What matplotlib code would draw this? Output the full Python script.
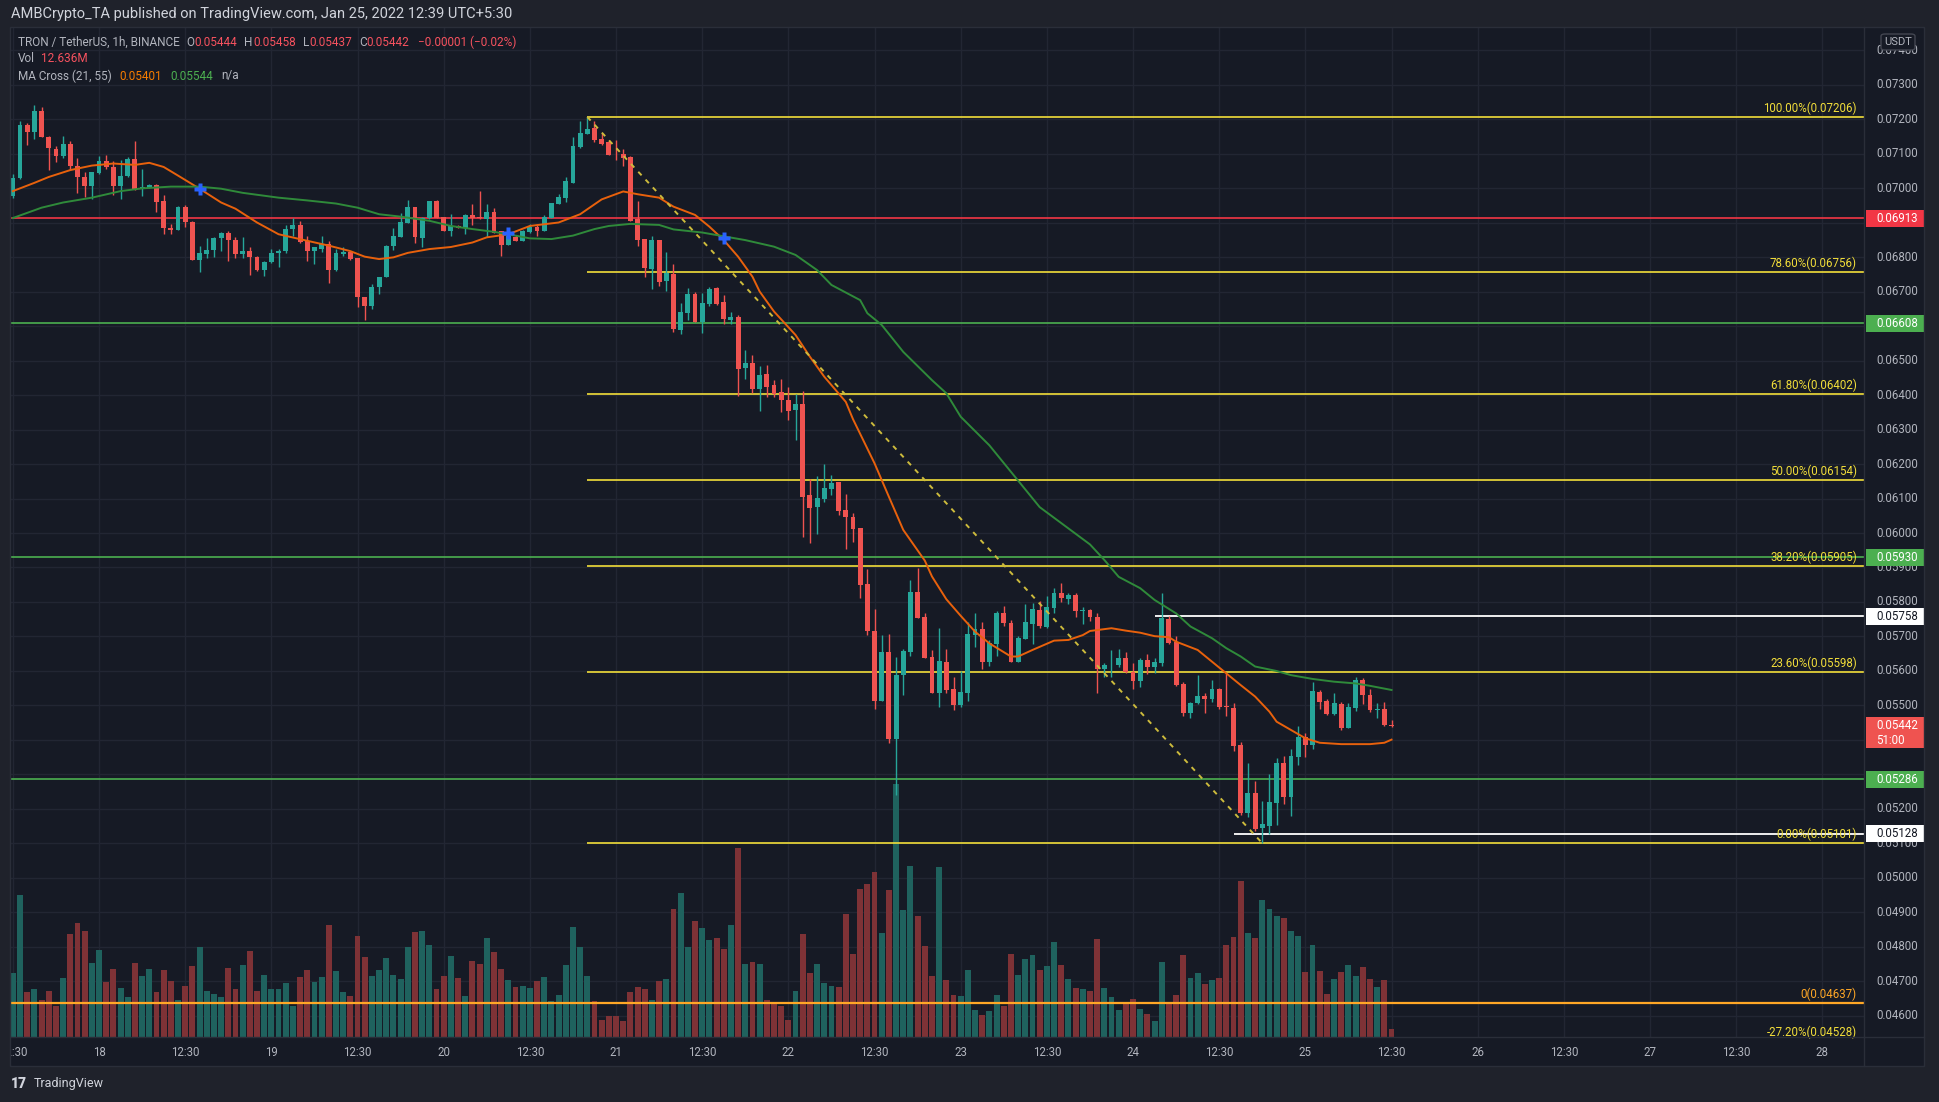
import numpy as np
import matplotlib
matplotlib.use("Agg")
import matplotlib.pyplot as plt
import matplotlib.transforms as mtransforms
from matplotlib.patches import Rectangle, FancyBboxPatch
from matplotlib.lines import Line2D

plt.rcParams['font.family'] = ['Roboto', 'DejaVu Sans']

# TRX/USDT 1h candles (Binance). index 0 = Jan 18 00:30 (UTC+5:30)
# prices are in 1e-5 USDT
first_idx = -12

opens = [6977, 7030, 7183, 7161, 7224, 7149, 7113, 7092, 7128, 7065, 7033, 7006,
         7043, 7077, 7062, 7006, 7034, 7085, 6998, 7000, 7010, 6961, 6883, 6879,
         6944, 6902, 6792, 6810, 6820, 6855, 6869, 6850, 6810, 6816, 6801, 6761,
         6786, 6812, 6817, 6881, 6892, 6846, 6817, 6824, 6838, 6761, 6810, 6815,
         6797, 6685, 6657, 6714, 6743, 6831, 6859, 6900, 6945, 6856, 6912, 6962,
         6916, 6876, 6890, 6883, 6921, 6916, 6910, 6930, 6875, 6836, 6859, 6847,
         6873, 6888, 6876, 6914, 6954, 6971, 7015, 7120, 7157, 7175, 7142, 7133,
         7100, 7098, 7090, 6909, 6852, 6765, 6849, 6730, 6752, 6588, 6639, 6693,
         6612, 6664, 6709, 6670, 6617, 6626, 6478, 6493, 6417, 6461, 6429, 6409,
         6386, 6357, 6374, 6110, 6076, 6100, 6128, 6148, 6067, 6045, 6015, 5852,
         5717, 5514, 5655, 5404, 5588, 5656, 5829, 5757, 5640, 5537, 5626, 5548,
         5502, 5537, 5705, 5721, 5627, 5677, 5768, 5739, 5627, 5694, 5736, 5777,
         5728, 5782, 5826, 5809, 5820, 5775, 5777, 5756, 5606, 5616, 5616, 5637,
         5598, 5572, 5632, 5613, 5624, 5751, 5683, 5562, 5479, 5506, 5528, 5520,
         5547, 5499, 5494, 5386, 5188, 5245, 5146, 5152, 5217, 5332, 5236, 5352,
         5410, 5386, 5539, 5513, 5474, 5504, 5436, 5494, 5574, 5531, 5487, 5489,
         5444]
highs = [7042, 7195, 7188, 7241, 7234, 7152, 7123, 7152, 7135, 7087, 7046, 7045,
         7092, 7097, 7078, 7082, 7090, 7137, 7054, 7013, 7013, 6979, 6895, 6948,
         6952, 6904, 6833, 6855, 6857, 6873, 6875, 6858, 6858, 6828, 6803, 6789,
         6823, 6823, 6892, 6912, 6904, 6861, 6830, 6861, 6846, 6823, 6828, 6818,
         6797, 6685, 6721, 6743, 6835, 6885, 6927, 6964, 6945, 6915, 6962, 6964,
         6916, 6924, 6892, 6924, 6953, 6991, 6953, 6943, 6875, 6864, 6865, 6878,
         6895, 6895, 6921, 6956, 6984, 7032, 7147, 7194, 7206, 7194, 7158, 7138,
         7138, 7113, 7093, 6962, 6852, 6861, 6849, 6814, 6780, 6666, 6710, 6698,
         6695, 6712, 6712, 6690, 6641, 6632, 6530, 6516, 6484, 6487, 6444, 6446,
         6424, 6403, 6412, 6157, 6165, 6200, 6168, 6148, 6113, 6059, 6015, 5896,
         5780, 5704, 5707, 5642, 5665, 5864, 5898, 5767, 5661, 5724, 5664, 5584,
         5600, 5743, 5769, 5743, 5690, 5774, 5788, 5748, 5701, 5794, 5798, 5803,
         5817, 5841, 5855, 5825, 5825, 5786, 5780, 5767, 5624, 5661, 5663, 5654,
         5624, 5639, 5648, 5639, 5827, 5758, 5700, 5567, 5511, 5588, 5537, 5574,
         5552, 5595, 5506, 5395, 5332, 5281, 5223, 5300, 5347, 5354, 5373, 5441,
         5419, 5567, 5545, 5518, 5535, 5511, 5508, 5582, 5579, 5547, 5508, 5509,
         5458]
lows = [6971, 7027, 7124, 7142, 7147, 7052, 7075, 7087, 7051, 6986, 6974, 6967,
        7041, 7054, 6979, 6969, 7032, 6993, 6977, 7000, 6931, 6867, 6867, 6879,
        6888, 6792, 6756, 6796, 6799, 6816, 6788, 6797, 6797, 6749, 6759, 6746,
        6782, 6772, 6812, 6862, 6842, 6787, 6781, 6814, 6724, 6759, 6804, 6791,
        6654, 6617, 6649, 6692, 6741, 6821, 6857, 6900, 6841, 6830, 6910, 6912,
        6874, 6862, 6883, 6868, 6892, 6910, 6859, 6871, 6804, 6834, 6847, 6847,
        6871, 6862, 6876, 6914, 6954, 6958, 7015, 7115, 7157, 7134, 7125, 7096,
        7081, 7065, 6905, 6833, 6743, 6708, 6717, 6702, 6584, 6577, 6617, 6612,
        6581, 6658, 6661, 6605, 6605, 6398, 6446, 6405, 6355, 6395, 6395, 6351,
        6328, 6270, 5987, 5972, 5997, 6091, 6110, 6052, 5955, 5975, 5813, 5704,
        5491, 5514, 5390, 5240, 5529, 5644, 5755, 5639, 5537, 5497, 5535, 5487,
        5497, 5513, 5671, 5605, 5615, 5644, 5731, 5627, 5627, 5692, 5677, 5724,
        5724, 5769, 5801, 5793, 5756, 5735, 5746, 5537, 5582, 5582, 5611, 5595,
        5548, 5555, 5590, 5595, 5615, 5678, 5557, 5471, 5463, 5504, 5479, 5511,
        5489, 5470, 5369, 5183, 5178, 5137, 5101, 5127, 5155, 5214, 5180, 5328,
        5350, 5375, 5490, 5473, 5473, 5429, 5436, 5485, 5504, 5480, 5465, 5442,
        5437]
closes = [7030, 7183, 7161, 7224, 7147, 7115, 7092, 7128, 7063, 7032, 7006, 7045,
          7077, 7060, 7006, 7036, 7085, 6998, 7002, 7010, 6960, 6883, 6879, 6944,
          6902, 6792, 6812, 6820, 6855, 6869, 6850, 6810, 6816, 6801, 6761, 6786,
          6812, 6817, 6881, 6892, 6844, 6817, 6829, 6838, 6761, 6813, 6815, 6795,
          6683, 6657, 6714, 6743, 6833, 6861, 6902, 6945, 6859, 6912, 6962, 6912,
          6876, 6890, 6883, 6921, 6912, 6912, 6930, 6871, 6836, 6862, 6847, 6875,
          6888, 6876, 6916, 6956, 6973, 7019, 7122, 7160, 7171, 7139, 7129, 7096,
          7098, 7087, 6905, 6849, 6769, 6849, 6729, 6754, 6591, 6641, 6693, 6612,
          6666, 6707, 6664, 6620, 6626, 6475, 6493, 6417, 6458, 6424, 6403, 6386,
          6355, 6374, 6105, 6073, 6102, 6131, 6145, 6065, 6045, 6013, 5850, 5717,
          5514, 5655, 5404, 5588, 5658, 5829, 5755, 5639, 5537, 5629, 5545, 5502,
          5539, 5707, 5721, 5627, 5681, 5768, 5738, 5627, 5696, 5742, 5780, 5731,
          5785, 5826, 5813, 5820, 5775, 5777, 5756, 5606, 5618, 5618, 5637, 5596,
          5572, 5632, 5613, 5625, 5755, 5682, 5559, 5477, 5506, 5528, 5520, 5547,
          5497, 5495, 5384, 5188, 5245, 5142, 5157, 5219, 5332, 5234, 5354, 5408,
          5386, 5542, 5511, 5476, 5506, 5436, 5496, 5574, 5531, 5487, 5489, 5444,
          5442]
# volume in millions of TRX (last bar still forming)
volumes = [103, 228, 72, 77, 59, 74, 49, 95, 165, 183, 170, 119,
           140, 88, 109, 79, 64, 119, 98, 109, 72, 108, 90, 59,
           82, 114, 144, 74, 69, 64, 111, 77, 116, 138, 74, 100,
           77, 77, 87, 49, 96, 108, 88, 96, 180, 106, 72, 66,
           162, 128, 98, 108, 127, 100, 93, 144, 168, 170, 148, 77,
           98, 130, 95, 66, 122, 117, 159, 136, 109, 92, 80, 82,
           79, 90, 96, 57, 68, 116, 176, 144, 98, 57, 28, 33,
           34, 26, 72, 80, 77, 59, 90, 93, 205, 231, 144, 186,
           175, 156, 159, 141, 180, 303, 117, 120, 117, 60, 53, 49,
           28, 74, 165, 103, 117, 87, 82, 80, 197, 133, 237, 245,
           264, 167, 236, 405, 204, 274, 194, 146, 98, 272, 92, 68,
           66, 108, 44, 36, 41, 68, 50, 133, 100, 125, 132, 108,
           114, 152, 116, 93, 79, 77, 74, 157, 79, 64, 44, 55,
           61, 45, 37, 26, 120, 53, 68, 132, 95, 103, 85, 92,
           95, 148, 160, 250, 167, 159, 220, 205, 194, 191, 170, 162,
           104, 148, 106, 69, 93, 104, 116, 98, 112, 93, 80, 92,
           12.636]

# MA Cross (21, 55)
ma21_idx = [-12, -9, -7, -4, -1, 2, 5, 7, 9, 11, 14, 17, 19, 22, 25, 29, 32, 35, 37, 39,
            41, 43, 46, 49, 52, 54, 57, 60, 64, 67, 70, 73, 75, 78, 80, 83, 85, 87, 89, 91,
            92, 94, 97, 99, 101, 104, 105, 108, 110, 112, 115, 116, 118, 120, 122, 124, 127,
            128, 130, 133, 135, 137, 138, 141, 143, 145, 147, 149, 150, 153, 155, 157, 159,
            161, 163, 164, 166, 168, 170, 173, 175, 177, 179, 180]
ma21 = [6991, 7015, 7032, 7052, 7065, 7071, 7067, 7073, 7061, 7036, 6998, 6958, 6940, 6900,
        6866, 6847, 6833, 6817, 6801, 6794, 6799, 6812, 6823, 6829, 6842, 6857, 6866, 6890,
        6900, 6924, 6967, 6990, 6982, 6972, 6946, 6922, 6888, 6849, 6801, 6743, 6700, 6642,
        6574, 6511, 6453, 6380, 6330, 6202, 6105, 6009, 5920, 5874, 5808, 5760, 5714, 5680,
        5642, 5642, 5661, 5688, 5690, 5704, 5716, 5724, 5717, 5711, 5701, 5698, 5685, 5661,
        5627, 5593, 5559, 5526, 5482, 5453, 5429, 5405, 5392, 5388, 5388, 5388, 5392, 5401]
ma55_idx = [-12, -8, -5, -1, 3, 6, 10, 14, 17, 20, 25, 29, 33, 36, 39, 42, 46, 49, 52, 55,
            58, 60, 63, 66, 69, 71, 74, 78, 80, 84, 87, 90, 94, 97, 100, 102, 106, 107, 109,
            112, 116, 118, 120, 124, 131, 138, 140, 142, 145, 147, 150, 152, 155, 157, 159,
            161, 164, 166, 169, 172, 175, 177, 180]
ma55 = [6913, 6943, 6958, 6972, 6991, 6999, 7004, 7004, 6998, 6986, 6972, 6964, 6955, 6943,
        6924, 6917, 6905, 6890, 6881, 6873, 6862, 6854, 6852, 6862, 6881, 6890, 6896, 6893,
        6880, 6871, 6860, 6849, 6830, 6806, 6762, 6719, 6675, 6637, 6603, 6525, 6443, 6405,
        6337, 6254, 6075, 5967, 5922, 5873, 5840, 5806, 5767, 5729, 5695, 5666, 5642, 5613,
        5600, 5588, 5577, 5569, 5564, 5557, 5545]
cross_idx = [14, 57, 87]
cross_px = [6996, 6869, 6856]

# drawings
fib_from, fib_to = 68, 162
fib_levels = [7206, 6756, 6402, 6154, 5905, 5598, 5101]
fib_names = ['100.00%', '78.60%', '61.80%', '50.00%', '38.20%', '23.60%', '0.00%']
red_level = 6913
green_levels = [6608, 5930, 5286]
white_levels = [5758, 5128]
white_from = [147, 158]
orange_level = 4637
ext_level = 4528
last_price = 5442

S = 1e-5
W, H = 1940, 1102
L, R, T, B = 10, 1864, 27, 1037
X0, X1 = -12.4, 245.8
Y0, Y1 = 0.045391, 0.074667

BG = '#161a25'
OUTER = '#1f222b'
GRID = '#222633'
TXT = '#b2b5be'
UP, DN = '#26a69a', '#ef5350'
FIB = '#f2de3a'

o = np.array(opens) * S
h = np.array(highs) * S
l = np.array(lows) * S
c = np.array(closes) * S
x = np.arange(first_idx, first_idx + len(o))
up = c >= o
cols = np.where(up, UP, DN)
vcols = np.where(up, '#1f625e', '#7e3236')

fig = plt.figure(figsize=(W / 100, H / 100), dpi=100, facecolor=OUTER)
fig.add_artist(Rectangle((10 / W, 1 - 1066 / H), 1914 / W, 1039 / H, transform=fig.transFigure,
                         facecolor=BG, edgecolor='none', zorder=-5))

rect = [L / W, 1 - B / H, (R - L) / W, (B - T) / H]
axg = fig.add_axes(rect)
axv = fig.add_axes(rect)
ax = fig.add_axes(rect)
for a in (axg, axv, ax):
    a.set_xlim(X0, X1)
    a.set_axis_off()
axg.set_ylim(Y0, Y1)
ax.set_ylim(Y0, Y1)
axv.set_ylim(0, 1616)

# grid
for p in range(46, 75):
    axg.axhline(p / 1000, color=GRID, lw=1)
for k in range(-12, 246, 12):
    axg.axvline(k, color=GRID, lw=1)

# volume
axv.bar(x, volumes, width=0.82, color=vcols, linewidth=0)

# horizontal levels
ax.axhline(red_level * S, color='#f23645', lw=1.2, zorder=2)
for g in green_levels:
    ax.axhline(g * S, color='#4caf50', lw=1.2, zorder=2)
ax.axhline(orange_level * S, color='#ffa726', lw=1.6, zorder=2)
ax.hlines(np.array(fib_levels) * S, fib_from, X1, color=FIB, lw=1.2, zorder=2)
for lv, x0 in zip(white_levels, white_from):
    ax.hlines(lv * S, x0, X1, color='white', lw=1.3, zorder=2)
ax.plot([fib_from, fib_to], [fib_levels[0] * S, fib_levels[-1] * S], color='#cdbb3c',
        lw=1.4, dashes=(2.5, 3), zorder=6)

# candles
ax.vlines(x, l, h, colors=cols, lw=1.0, zorder=3)
ax.bar(x, np.maximum(np.abs(c - o), 1.5e-5), bottom=np.minimum(o, c), width=0.68,
       color=cols, linewidth=0, zorder=4)

# moving averages
ax.plot(ma21_idx, np.array(ma21) * S, color='#e8610c', lw=1.4, zorder=5)
ax.plot(ma55_idx, np.array(ma55) * S, color='#2f8a3a', lw=1.4, zorder=5)
ax.plot(cross_idx, np.array(cross_px) * S, 'P', color='#2962ff', ms=9, mec='none', zorder=7)

# fib labels
lab_tr = mtransforms.offset_copy(mtransforms.blended_transform_factory(ax.transAxes, ax.transData),
                                 fig=fig, y=2, units='dots')
xr = (1857 - L) / (R - L)
for lv, nm in zip(fib_levels, fib_names):
    ax.text(xr, lv * S, f"{nm}({lv * S:.5f})", color=FIB, fontsize=8.3, ha='right',
            va='bottom', transform=lab_tr, clip_on=False, zorder=8)
ax.text(xr, orange_level * S, f"0({orange_level * S:.5f})", color='#ffa726', fontsize=8.3,
        ha='right', va='bottom', transform=lab_tr, clip_on=False, zorder=8)
ax.text(xr, ext_level * S, f"-27.20%({ext_level * S:.5f})", color=FIB, fontsize=8.3,
        ha='right', va='bottom', transform=lab_tr, clip_on=False, zorder=8)

# price scale (labels hidden under a marker box are not drawn)
ptr = mtransforms.blended_transform_factory(fig.transFigure, ax.transData)
px = (Y1 - Y0) / (B - T)
box_levels = [red_level] + green_levels + white_levels
for p in range(46, 75):
    v = p / 1000
    if min(abs(v - b * S) for b in box_levels) < 7 * px:
        continue
    if -16 * px < v - last_price * S < 10 * px:
        continue
    fig.text(1876 / W, v, f"{v:.5f}", color=TXT, fontsize=8.3, va='center',
             transform=ptr, zorder=10)


def price_box(v, face, tcol, text):
    fig.add_artist(Rectangle((1866 / W, v - 8.5 * px), 58 / W, 17 * px, transform=ptr,
                             facecolor=face, edgecolor='none', zorder=11))
    fig.text(1876 / W, v, text, color=tcol, fontsize=8.3, va='center', transform=ptr,
             zorder=12)


price_box(red_level * S, '#f23645', 'white', f"{red_level * S:.5f}")
for g in green_levels:
    price_box(g * S, '#4caf50', 'white', f"{g * S:.5f}")
for lv in white_levels:
    price_box(lv * S, 'white', '#131722', f"{lv * S:.5f}")
lp = last_price * S
fig.add_artist(Rectangle((1866 / W, lp - 22.5 * px), 58 / W, 31 * px, transform=ptr,
                         facecolor='#ef5350', edgecolor='none', zorder=11))
fig.text(1876 / W, lp, f"{lp:.5f}", color='white', fontsize=8.3, va='center', transform=ptr,
         zorder=12)
fig.text(1876 / W, lp - 15 * px, "51:00", color='white', fontsize=8.3, va='center',
         transform=ptr, zorder=12)

fig.add_artist(FancyBboxPatch((1881 / W, 1 - 50 / H), 34 / W, 16 / H,
                              boxstyle="round,pad=0,rounding_size=0.002",
                              transform=fig.transFigure, facecolor=BG, edgecolor='#434651',
                              lw=1, zorder=13))
fig.text(1898 / W, 1 - 42 / H, "USDT", color=TXT, fontsize=8, ha='center', va='center',
         zorder=14)

# time scale
ttr = mtransforms.blended_transform_factory(ax.transData, fig.transFigure)
for k in range(-12, 246, 12):
    lab = "12:30" if k % 24 else str(18 + k // 24)
    fig.text(k, 1 - 1053 / H, lab, color=TXT, fontsize=8.3, ha='center', va='center',
             transform=ttr, zorder=10)

# pane separators and outer frame
fig.add_artist(Line2D([R / W, R / W], [1 - T / H, 1 - 1066 / H], color='#2a2e39', lw=1,
                      transform=fig.transFigure, zorder=9))
fig.add_artist(Line2D([L / W, 1924 / W], [1 - B / H, 1 - B / H], color='#2a2e39', lw=1,
                      transform=fig.transFigure, zorder=9))
fig.add_artist(Rectangle((0, 0), L / W, 1, transform=fig.transFigure, facecolor=OUTER,
                         edgecolor='none', zorder=15))
fig.add_artist(Rectangle((10 / W, 1 - 1066 / H), 1914 / W, 1039 / H, transform=fig.transFigure,
                         facecolor='none', edgecolor='#2a2e39', lw=1, zorder=16))

# header and legend
fig.text(11 / W, 1 - 14 / H, "AMBCrypto_TA published on TradingView.com, Jan 25, 2022 12:39 UTC+5:30",
         color='#d1d4dc', fontsize=10.5, va='center')

rend = fig.canvas.get_renderer()


def chain(x0, y, parts):
    xp = x0
    for txt, col, gap in parts:
        t = fig.text(xp / W, 1 - y / H, txt, color=col, fontsize=8.5, va='center', zorder=12)
        xp += t.get_window_extent(rend).width + gap


VRED = '#f7525f'
chain(18, 42, [("TRON / TetherUS, 1h, BINANCE", TXT, 7), ("O", TXT, 0), ("0.05444", VRED, 7),
               ("H", TXT, 0), ("0.05458", VRED, 7), ("L", TXT, 0), ("0.05437", VRED, 7),
               ("C", TXT, 0), ("0.05442", VRED, 9), ("\u22120.00001 (\u22120.02%)", VRED, 0)])
chain(18, 59, [("Vol", TXT, 6), ("12.636M", VRED, 0)])
chain(18, 76, [("MA Cross (21, 55)", TXT, 8), ("0.05401", '#f57c00', 8),
               ("0.05544", '#4caf50', 8), ("n/a", TXT, 0)])

# footer logo
fig.text(11 / W, 1 - 1084 / H, "17", color='#d1d4dc', fontsize=10, fontweight='heavy',
         va='center')
fig.text(34 / W, 1 - 1084 / H, "TradingView", color='#d1d4dc', fontsize=9, va='center')

fig.savefig("out.png", dpi=100, facecolor=OUTER)
